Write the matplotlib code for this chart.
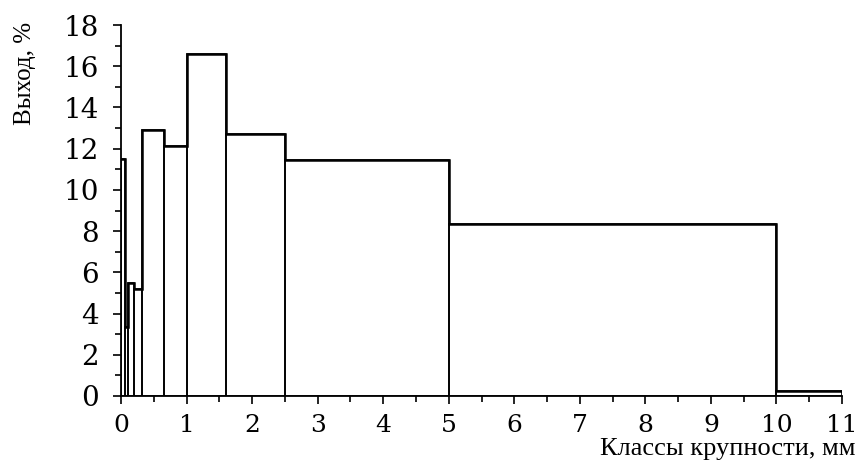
import matplotlib.pyplot as plt
import numpy as np
from matplotlib.ticker import MultipleLocator

# Size classes (mm) and yield per class (%)
edges = [0, 0.06, 0.1, 0.2, 0.315, 0.65, 1.0, 1.6, 2.5, 5, 10, 11]
yields = [11.5, 3.35, 5.5, 5.2, 12.9, 12.15, 16.6, 12.7, 11.45, 8.35, 0.25]

plt.rcParams.update({"font.family": "Liberation Serif"})

fig = plt.figure(figsize=(8.58, 4.66), dpi=100)
ax = fig.add_axes([121/858, 1-396/466, (842-121)/858, (396-25)/466])

left = np.array(edges[:-1])
width = np.diff(edges)
ax.bar(left, yields, width=width, align='edge', fill=False, edgecolor='k', lw=1.2)

# outline along the tops
ax.stairs(yields, edges, color='k', lw=1.8, baseline=None)

ax.set_xlim(0, 11)
ax.set_ylim(0, 18)
ax.xaxis.set_major_locator(MultipleLocator(1))
ax.xaxis.set_minor_locator(MultipleLocator(0.5))
ax.yaxis.set_major_locator(MultipleLocator(2))
ax.yaxis.set_minor_locator(MultipleLocator(1))
ax.tick_params(which='major', direction='out', length=6, width=1.2)
ax.tick_params(which='minor', direction='out', length=4, width=1.2)
ax.tick_params(axis='y', which='major', pad=10, labelsize=20)
ax.tick_params(axis='x', which='major', pad=7, labelsize=18)
for lab in ax.get_xticklabels() + ax.get_yticklabels():
    lab.set_family('DejaVu Serif')

for s in ['top', 'right']:
    ax.spines[s].set_visible(False)
for s in ['left', 'bottom']:
    ax.spines[s].set_linewidth(1.3)

fig.text(855/858, 1-449/466, 'Классы крупности, мм', ha='right', va='center', fontsize=19)
fig.text(25/858, 1-73/466, 'Выход, %', rotation=90, ha='center', va='center', fontsize=18)

plt.savefig('out.png', dpi=100)
